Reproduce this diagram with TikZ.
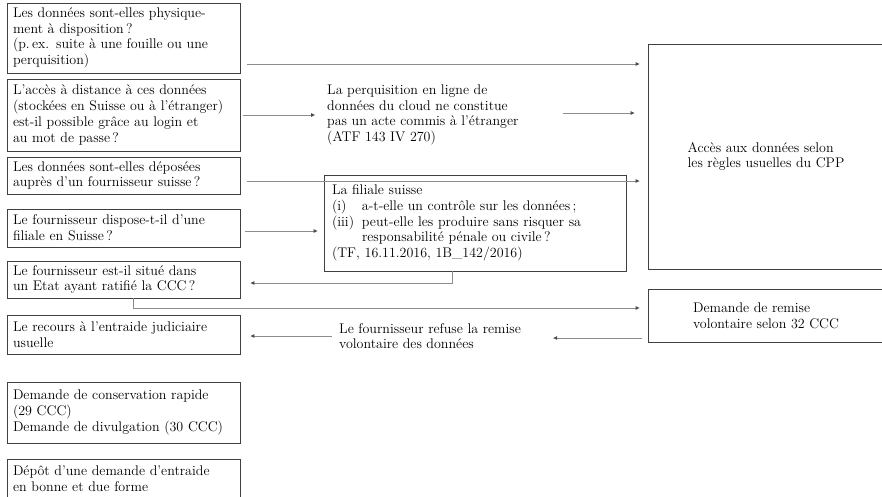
\documentclass[tikz,border=0pt]{standalone}
\usepackage{tikz}
\usetikzlibrary{arrows.meta}
\newcommand{\fsz}{\fontsize{14}{15.7}\selectfont}

\begin{document}
\begin{tikzpicture}[x=1pt,y=-1pt]
\tikzstyle{qbox}=[draw=black!75,line width=0.8pt,align=left,text width=221pt,inner xsep=6pt,inner ysep=0pt,font=\fsz]
\tikzstyle{rbox}=[draw=black!75,line width=0.8pt,align=left,minimum width=236pt,inner ysep=0pt,font=\fsz]
\tikzstyle{txt}=[align=left,inner sep=0pt,anchor=west,font=\fsz]
\tikzstyle{arr}=[draw=black!45,line width=0.9pt,-{Triangle[length=4pt,width=3.5pt,color=black!70]}]
\useasboundingbox (0,0) rectangle (882,496);

\node[qbox,minimum height=70pt] (q1) at (123.5,38) {Les données sont-elles physique-\\ment à disposition\,?\\(p.\,ex. suite à une fouille ou une\\perquisition)};
\node[qbox,minimum height=72pt] (q2) at (123.5,115) {L’accès à distance à ces données\\(stockées en Suisse ou à l’étranger)\\est-il possible grâce au login et\\au mot de passe\,?};
\node[qbox,minimum height=37pt] (q3) at (123.5,175.5) {Les données sont-elles déposées\\auprès d’un fournisseur suisse\,?};
\node[qbox,minimum height=38pt] (q4) at (123.5,228) {Le fournisseur dispose-t-il d’une\\filiale en Suisse\,?};
\node[qbox,minimum height=37pt] (q5) at (123.5,279.5) {Le fournisseur est-il situé dans\\un Etat ayant ratifié la CCC\,?};
\node[qbox,minimum height=39pt] (q6) at (123.5,334.5) {Le recours à l’entraide judiciaire\\usuelle};
\node[qbox,minimum height=61pt] (q7) at (123.5,412.5) {Demande de conservation rapide\\(29 CCC)\\Demande de divulgation (30 CCC)};
\node[qbox,minimum height=39pt] (q8) at (123.5,478.5) {Dépôt d’une demande d’entraide\\en bonne et due forme};

\node[rbox,minimum height=225pt] (acces) at (766,156.5) {Accès aux données selon\\les règles usuelles du CPP};
\node[rbox,minimum height=53pt] (remise) at (766,315.5) {Demande de remise\\volontaire selon 32 CCC};

\node[draw=black!75,line width=0.8pt,align=left,text width=286pt,inner xsep=8pt,inner ysep=0pt,minimum height=96pt,font=\fsz] (fil) at (475,223) {La filiale suisse\\\makebox[30pt][l]{(i)}a-t-elle un contrôle sur les données\,;\\\makebox[30pt][l]{(iii)}peut-elle les produire sans risquer sa\\\hspace*{30pt}responsabilité pénale ou civile\,?\\(TF, 16.11.2016, 1B\_142/2016)};

\node[txt] (perq) at (327,115) {La perquisition en ligne de\\données du cloud ne constitue\\pas un acte commis à l’étranger\\(ATF 143 IV 270)};
\node[txt] (refuse) at (339,336) {Le fournisseur refuse la remise\\volontaire des données};

\draw[arr,shorten >=8pt] ([shift={(7pt,-26pt)}]q1.east) coordinate (a1) -- (a1 -| acces.west);
\draw[arr] ([xshift=3pt]q2.east) -- ([xshift=-12pt]perq.west);
\draw[arr,shorten >=13pt] ([shift={(44pt,2pt)}]perq.east) coordinate (a2) -- (a2 -| acces.west);
\draw[arr,shorten >=8pt] ([shift={(7pt,-5.5pt)}]q3.east) coordinate (a3) -- (a3 -| acces.west);
\draw[arr,shorten >=6pt] ([shift={(5pt,-3pt)}]q4.east) coordinate (a4) -- (a4 -| fil.west);
\draw[arr,shorten >=10pt] ([xshift=-23pt]fil.south) |- ([yshift=-3.5pt]q5.east);
\draw[arr,shorten >=8pt] ([xshift=9.5pt]q5.south) |- ([yshift=7.5pt]remise.west);
\draw[arr,shorten <=6pt] ([yshift=-22.5pt]remise.west) -- ([shift={(32pt,-2pt)}]refuse.east);
\draw[arr,shorten >=10pt] ([xshift=-7pt]refuse.west) -- (q6.east |- refuse.west);
\end{tikzpicture}
\end{document}
